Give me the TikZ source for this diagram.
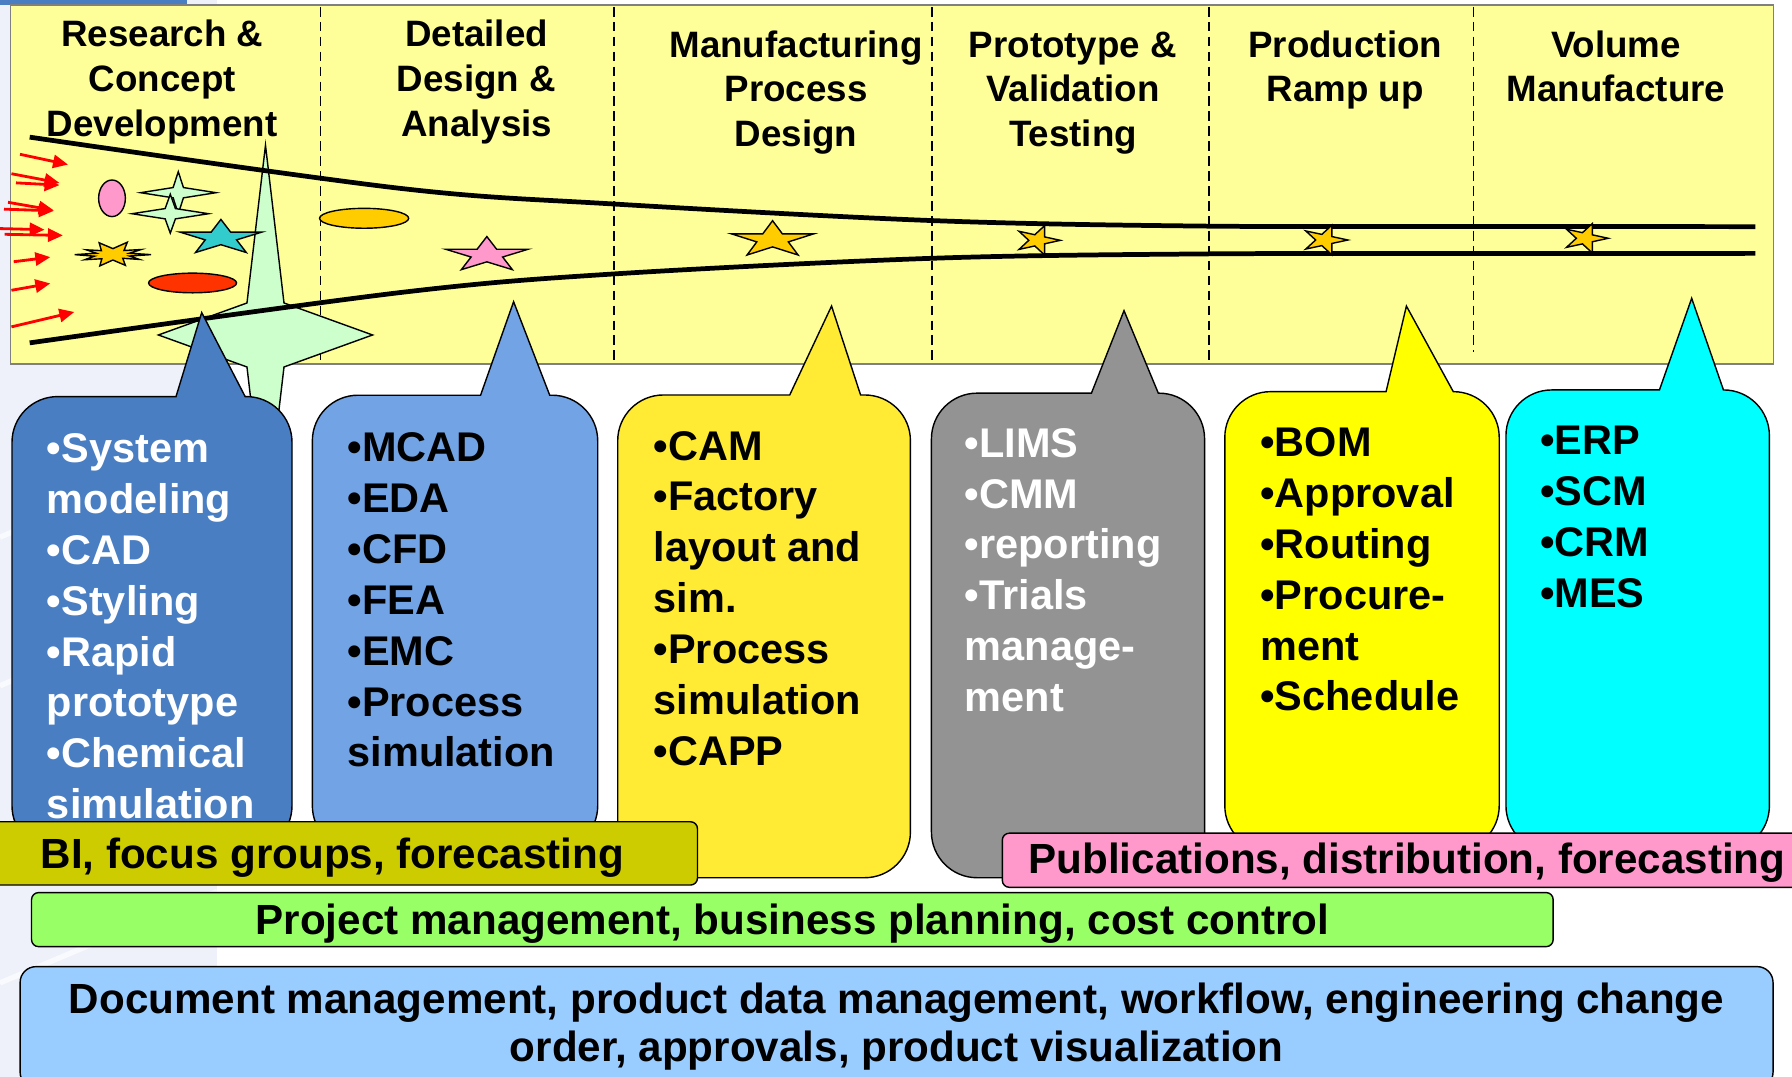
\documentclass[tikz,border=0pt]{standalone}
\usepackage{fontspec}
\setmainfont{Liberation Sans}
\usetikzlibrary{arrows.meta}

\definecolor{sideblue}{HTML}{EEF1FA}
\definecolor{barblue}{HTML}{4A7EC2}
\definecolor{panelyellow}{HTML}{FFFF99}
\definecolor{rdblue}{HTML}{4A7EC2}
\definecolor{ddblue}{HTML}{72A3E4}
\definecolor{mfyellow}{HTML}{FFEB33}
\definecolor{ptgrey}{HTML}{939393}
\definecolor{pryellow}{HTML}{FFFF00}
\definecolor{vmcyan}{HTML}{00FFFF}
\definecolor{biolive}{HTML}{CCCC00}
\definecolor{pubpink}{HTML}{FF99CC}
\definecolor{pmgreen}{HTML}{99FF66}
\definecolor{docblue}{HTML}{99CCFF}
\definecolor{mint}{HTML}{CCFFCC}
\definecolor{gold}{HTML}{FFCC00}
\definecolor{seagreen}{HTML}{33CCCC}
\definecolor{ovalred}{HTML}{FF3300}
\definecolor{ovalpink}{HTML}{FF99CC}

\tikzset{
  outline/.style={draw=black, line width=0.8pt},
  phase/.style={anchor=base, inner sep=0pt, font=\fontsize{20.9}{25}\selectfont\bfseries},
  tool/.style={anchor=base west, inner sep=0pt, font=\fontsize{23.6}{29}\selectfont\bfseries},
  banner/.style={outline, rounded corners=4pt},
  bannertext/.style={inner sep=0pt, font=\fontsize{24}{28}\selectfont\bfseries},
  funnel/.style={line width=2.7pt, line join=round},
  divider/.style={line width=0.9pt, dash pattern=on 5.5pt off 3pt},
  inflow/.style={red, line width=1.6pt, -{Triangle[length=8.5pt,width=7.5pt]}},
}

% callout: fill, left, right, top, bottom, tail left, tail right, tip
\newcommand{\callout}[8]{%
  \filldraw[outline, fill=#1] (#2,#5-40) -- (#2,#4+40)
    arc[start angle=180, end angle=270, radius=40] -- (#6,#4) -- (#8) -- (#7,#4)
    -- (#3-40,#4) arc[start angle=270, end angle=360, radius=40]
    -- (#3,#5-40) arc[start angle=0, end angle=90, radius=40]
    -- (#2+40,#5) arc[start angle=90, end angle=180, radius=40] -- cycle;}

% four-point star: fill, centre, x radius, y radius, inner x, inner y
\newcommand{\sparkle}[6]{%
  \filldraw[outline, fill=#1, shift={(#2)}] (0,-#4) -- (#5,-#6) -- (#3,0) -- (#5,#6)
    -- (0,#4) -- (-#5,#6) -- (-#3,0) -- (-#5,-#6) -- cycle;}

% five-point star: fill, centre, x radius, y radius, angle of first point
\newcommand{\pentstar}[5]{%
  \filldraw[outline, fill=#1, shift={(#2)}, xscale=#3, yscale=#4] (#5:1)
    \foreach \k in {1,...,9} { -- ({#5+36*\k}:{mod(\k,2)==1 ? 0.382 : 1}) } -- cycle;}

% stacked lines: name, x, first baseline, lines
\newcommand{\phaselabel}[4]{%
  \foreach \txt [count=\i] in {#4}
    \node[phase] (#1-\i) at (#2,{#3+39*(\i-1)}) {\txt};}

% tool list: name, x, first baseline, colour, lines
\newcommand{\toollist}[5]{%
  \foreach \txt [count=\i] in {#5}
    \node[tool, text=#4] (#1-\i) at (#2,{#3+44.5*(\i-1)}) {\txt};}

\begin{document}
\begin{tikzpicture}[x=0.022857cm, y=-0.022857cm]
  \useasboundingbox (0,0) rectangle (1568,942);
  \clip (0,0) rectangle (1568,942);

  % slide background
  \fill[white] (0,0) rectangle (1568,942);
  \fill[sideblue] (0,0) rectangle (190,942);
  \foreach \y in {430,560,700,820}
    \draw[white, line width=3pt, opacity=0.7] (0,\y+40) -- (190,\y-40);
  \fill[barblue] (0,0) rectangle (164,4.4);

  % phase panel
  \filldraw[fill=panelyellow, draw=gray, line width=0.8pt] (9.4,4.4) rectangle (1552,318.5);
  \foreach \x/\yend in {280.3/317, 537/317, 815.5/317, 1058/317, 1289.3/308}
    \draw[divider] (\x,6) -- (\x,\yend);

  \phaselabel{rd}{142}{41}{Research \&, Concept, Development}
  \phaselabel{dd}{417}{41}{Detailed, Design \&, Analysis}
  \phaselabel{mp}{696.5}{50.2}{Manufacturing, Process, Design}
  \phaselabel{pv}{938.8}{50.2}{Prototype \&, Validation, Testing}
  \phaselabel{pr}{1177}{50.2}{Production, Ramp up}
  \phaselabel{vm}{1414}{50.2}{Volume, Manufacture}

  % ideas entering the funnel
  \sparkle{mint}{232.3,293.1}{93.7}{166}{16.2}{28}
  \draw[funnel] plot[smooth, tension=0.55] coordinates
    {(26,120) (350,164.8) (537,178.5) (815.5,193) (1050,197.8) (1300,198.2) (1536,198.3)};
  \draw[funnel] plot[smooth, tension=0.55] coordinates
    {(26,300) (350,256) (537,239.7) (815.5,226) (1050,222.2) (1300,221.8) (1536,221.7)};

  \filldraw[outline, fill=ovalpink] (98,173.5) ellipse [x radius=11.7, y radius=16];
  \sparkle{mint}{156,168.6}{33}{18.4}{4.5}{4.5}
  \sparkle{mint}{149,187}{33.5}{17}{4.5}{4.5}
  \pentstar{seagreen}{193.3,208}{37.8}{16}{-90}
  \filldraw[outline, fill=gold, shift={(98.8,222.8)}, xscale=33.5, yscale=10.5]
    (0:1) -- (15:0.45) -- (30:0.8) -- (50:0.4) -- (70:0.95) -- (90:0.45) -- (110:1)
    -- (130:0.45) -- (150:0.85) -- (165:0.5) -- (180:1) -- (195:0.45) -- (210:0.8)
    -- (228:0.45) -- (250:1.05) -- (270:0.5) -- (290:1.1) -- (310:0.45) -- (330:0.85)
    -- (345:0.45) -- cycle;
  \filldraw[outline, fill=ovalred] (168.5,247.6) ellipse [x radius=38.5, y radius=8.6];
  \filldraw[outline, fill=gold] (318.6,191) ellipse [x radius=39, y radius=8.7];
  \pentstar{ovalpink}{426,223}{38}{16}{-90}
  \pentstar{gold}{676,209.7}{38}{16.6}{-90}
  \pentstar{gold}{907.8,210.3}{20}{13.5}{0}
  \pentstar{gold}{1159,210}{20.4}{13.5}{0}
  \pentstar{gold}{1387,208.5}{20.2}{13.5}{0}

  \foreach \xa/\ya/\xb/\yb in {17.5/135/59.5/144, 10/152/52/160, 14/160/52/162,
      7/177/47/184, 3.5/183/47/184.5, 0/200/39/201, 4/205/55/206,
      12/229/44/225, 10/254/44/248, 10/286/65/273}
    \draw[inflow] (\xa,\ya) -- (\xb,\yb);

  % tool callouts
  \callout{rdblue}{10.5}{255.5}{347}{745}{154}{214.5}{176.5,273.5}
  \callout{ddblue}{273.3}{523}{345.8}{745}{420.5}{481}{449.4,264}
  \callout{mfyellow}{540.5}{796.6}{345.6}{768}{691}{753}{727.6,267.8}
  \callout{ptgrey}{815}{1054}{344}{768}{955}{1013.5}{983.5,271.8}
  \callout{pryellow}{1071.7}{1311.8}{342.7}{745}{1212.8}{1271.6}{1230.6,267.8}
  \callout{vmcyan}{1317.7}{1548.2}{341.2}{745}{1452}{1508}{1480.2,261}

  \toollist{rdt}{40.8}{404.8}{white}{•System, modeling, •CAD, •Styling, •Rapid, prototype, •Chemical, simulation}
  \toollist{ddt}{303.8}{404}{black}{•MCAD, •EDA, •CFD, •FEA, •EMC, •Process, simulation}
  \toollist{mpt}{571.7}{402.5}{black}{•CAM, •Factory, layout and, sim., •Process, simulation, •CAPP}
  \toollist{pvt}{844}{400}{white}{•LIMS, •CMM, •reporting, •Trials, manage-, ment}
  \toollist{prt}{1102.5}{399.6}{black}{•BOM, •Approval, •Routing, •Procure-, ment, •Schedule}
  \toollist{vmt}{1347.4}{398}{black}{•ERP, •SCM, •CRM, •MES}

  % cross-phase banners
  \draw[banner, fill=biolive] (-10,719) rectangle (610.3,774.4);
  \node[bannertext, anchor=base west] (bi) at (35.2,759.8) {BI, focus groups, forecasting};
  \draw[banner, fill=pubpink] (877,729) rectangle (1600,776.4);
  \node[bannertext, anchor=base west] (pub) at (899.7,764.7) {Publications, distribution, forecasting};
  \draw[banner, fill=pmgreen] (27.6,781) rectangle (1359,828.3);
  \node[bannertext, anchor=base] (pm) at (693.3,818) {Project management, business planning, cost control};
  \draw[outline, fill=docblue, rounded corners=9pt] (17.6,845.8) rectangle (1551.4,952);
  \node[bannertext, anchor=base] (doc-1) at (784.5,887)
    {Document management, product data management, workflow, engineering change};
  \node[bannertext, anchor=base] (doc-2) at (784.5,929) {order, approvals, product visualization};
\end{tikzpicture}
\end{document}
